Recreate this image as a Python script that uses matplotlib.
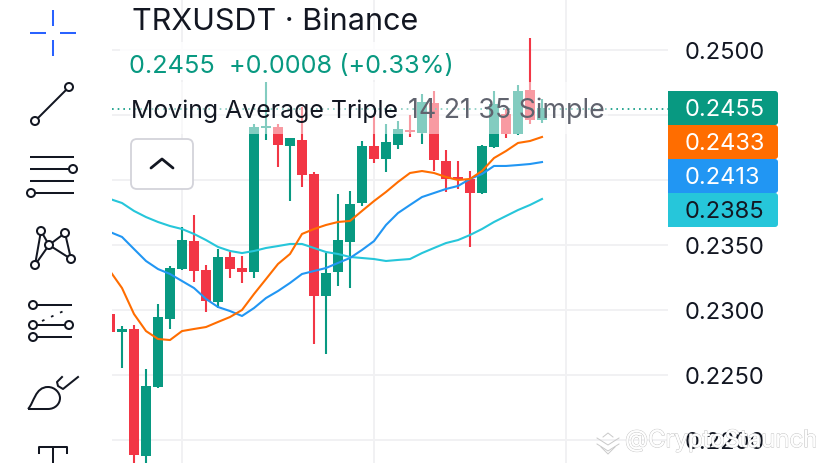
import numpy as np
import matplotlib
matplotlib.use("Agg")
import matplotlib.pyplot as plt
import matplotlib.patheffects as pe
from matplotlib.patches import Circle, FancyBboxPatch, PathPatch, Rectangle
from matplotlib.path import Path

plt.rcParams['font.family'] = ['Inter', 'DejaVu Sans']

# Candle values
opens = [0.22969, 0.22831, 0.22854, 0.21877, 0.22408, 0.22931, 0.23315, 0.23531, 0.23308, 0.23062,
         0.23408, 0.23323, 0.23292, 0.24400, 0.24408, 0.24262, 0.24308, 0.24046, 0.23108, 0.23292,
         0.23523, 0.23823, 0.24262, 0.24162, 0.24269, 0.24385, 0.24362, 0.24592, 0.24146, 0.24023,
         0.24008, 0.23900, 0.24254, 0.24508, 0.24354, 0.24692, 0.24462]
highs = [0.22969, 0.22877, 0.22885, 0.22546, 0.23046, 0.23338, 0.23638, 0.23731, 0.23346, 0.23469,
         0.23446, 0.23415, 0.24431, 0.24754, 0.24431, 0.24323, 0.24562, 0.24062, 0.23438, 0.23892,
         0.23915, 0.24300, 0.24492, 0.24431, 0.24454, 0.24500, 0.24662, 0.24685, 0.24231, 0.24146,
         0.24069, 0.24269, 0.24685, 0.24546, 0.24731, 0.25092, 0.24623]
lows = [0.22831, 0.22554, 0.21777, 0.21777, 0.22400, 0.22854, 0.23308, 0.23215, 0.22985, 0.23015,
        0.23246, 0.23208, 0.23246, 0.24308, 0.24100, 0.23838, 0.23946, 0.22738, 0.22662, 0.23185,
        0.23169, 0.23800, 0.24131, 0.24062, 0.24238, 0.24331, 0.24277, 0.24069, 0.23908, 0.23931,
        0.23485, 0.23892, 0.24246, 0.24323, 0.24346, 0.24431, 0.24438]
closes = [0.22831, 0.22854, 0.21885, 0.22415, 0.22946, 0.23323, 0.23538, 0.23300, 0.23069, 0.23408,
          0.23315, 0.23292, 0.24408, 0.24415, 0.24269, 0.24323, 0.24038, 0.23108, 0.23285, 0.23538,
          0.23815, 0.24262, 0.24162, 0.24292, 0.24392, 0.24369, 0.24600, 0.24154, 0.24008, 0.24008,
          0.23900, 0.24262, 0.24585, 0.24354, 0.24685, 0.24462, 0.24554]

# Moving averages
ma14 = [0.23300, 0.23169, 0.22969, 0.22838, 0.22777, 0.22769, 0.22838, 0.22854, 0.22869, 0.22908,
        0.22946, 0.23000, 0.23123, 0.23238, 0.23354, 0.23431, 0.23585, 0.23623, 0.23654, 0.23677,
        0.23685, 0.23762, 0.23838, 0.23908, 0.23985, 0.24054, 0.24069, 0.24054, 0.24023, 0.24000,
        0.24008, 0.24069, 0.24169, 0.24223, 0.24285, 0.24300, 0.24331]
ma21 = [0.23600, 0.23562, 0.23469, 0.23377, 0.23315, 0.23277, 0.23223, 0.23169, 0.23085, 0.23023,
        0.22992, 0.22954, 0.23015, 0.23092, 0.23146, 0.23208, 0.23277, 0.23300, 0.23323, 0.23362,
        0.23400, 0.23462, 0.23530, 0.23654, 0.23746, 0.23808, 0.23869, 0.23900, 0.23931, 0.23954,
        0.24008, 0.24046, 0.24108, 0.24108, 0.24115, 0.24123, 0.24138]
ma35 = [0.23854, 0.23823, 0.23762, 0.23715, 0.23677, 0.23646, 0.23623, 0.23585, 0.23538, 0.23485,
        0.23454, 0.23438, 0.23454, 0.23477, 0.23492, 0.23508, 0.23508, 0.23477, 0.23446, 0.23431,
        0.23408, 0.23400, 0.23392, 0.23377, 0.23385, 0.23392, 0.23438, 0.23477, 0.23515, 0.23538,
        0.23577, 0.23623, 0.23677, 0.23723, 0.23769, 0.23808, 0.23854]

price_ticks = [0.2500, 0.2450, 0.2400, 0.2350, 0.2300, 0.2250, 0.2200]
price_labels = ["0.2500", "", "", "0.2350", "0.2300", "0.2250", "0.2200"]
time_grid = [6, 22, 38]
last_price = 0.2455
tags = ["0.2455", "0.2433", "0.2413", "0.2385"]

GREEN = "#089981"
RED = "#F23645"
ORANGE = "#FF6D00"
BLUE = "#2196F3"
CYAN = "#26C6DA"
INK = "#131722"
GRID = "#F1F1F3"

W, H = 828, 464
fig = plt.figure(figsize=(W / 100, H / 100), dpi=100)

# main chart: x is candle number, 12 px per candle, first candle centred at x=110
ax = fig.add_axes([112 / W, 0, 556 / W, 1])
ax.set_xlim((112 - 110) / 12, (668 - 110) / 12)
ax.set_ylim(0.25 - (464 - 51) / 13000, 0.25 + 51 / 13000)
for s in ax.spines.values():
    s.set_visible(False)
ax.set_xticks([])
ax.yaxis.tick_right()
ax.set_yticks(price_ticks)
ax.set_yticklabels(price_labels, fontsize=17, color=INK)
ax.tick_params(axis='y', length=0, pad=12)

for p in price_ticks:
    ax.axhline(p, color=GRID, lw=1.4, zorder=1)
for t in time_grid:
    ax.axvline(t, color=GRID, lw=1.4, zorder=1)

idx = np.arange(len(opens))
o = np.array(opens)
c = np.array(closes)
colors = [GREEN if b > a else RED for a, b in zip(o, c)]
ax.vlines(idx, lows, highs, colors=colors, lw=1.5, zorder=2)
ax.bar(idx, np.abs(c - o), bottom=np.minimum(o, c), width=10 / 12, color=colors, zorder=3)

ax.plot(idx, ma35, color=CYAN, lw=1.5, zorder=4)
ax.plot(idx, ma21, color=BLUE, lw=1.5, zorder=4)
ax.plot(idx, ma14, color=ORANGE, lw=1.5, zorder=4)
ax.axhline(last_price, color=GREEN, lw=1.2, ls=(0, (1, 2.4)), zorder=4)

# overlay in pixel coordinates for the legend, price tags and toolbar
ov = fig.add_axes([0, 0, 1, 1], facecolor="none")
ov.set_xlim(0, W)
ov.set_ylim(H, 0)
ov.axis("off")

# legend backdrops
ov.add_patch(Rectangle((120, 43), 350, 38, fc="white", alpha=0.85, lw=0))
ov.add_patch(Rectangle((130, 83), 478, 52, fc="white", alpha=0.5, lw=0))

ov.text(132, 22, "TRXUSDT · Binance", fontsize=22, color=INK, va="center")
ov.text(129, 66, "0.2455  +0.0008 (+0.33%)", fontsize=18.2, color=GREEN, va="center")
ov.text(131, 111, "Moving Average Triple", fontsize=17.9, color=INK, va="center")
ov.text(408, 111, "14 21 35 Simple", fontsize=19.3, color="#60636E", va="center")

# collapse button
ov.add_patch(FancyBboxPatch((134, 143), 56, 44, boxstyle="round,pad=3,rounding_size=6",
                            fc="white", ec="#D3D3DA", lw=1.3))
ov.plot([151, 162, 173], [169, 160, 169], color=INK, lw=2, solid_capstyle="round", solid_joinstyle="round")

# price tags
tag_tops = [92, 126, 160, 194]
tag_fill = [GREEN, ORANGE, BLUE, CYAN]
tag_text = ["white", "white", "white", INK]
for top, fill, txt, label in zip(tag_tops, tag_fill, tag_text, tags):
    ov.add_patch(FancyBboxPatch((670, top + 2), 106, 30, boxstyle="round,pad=2,rounding_size=3",
                                fc=fill, ec="none"))
    ov.add_patch(Rectangle((668, top), 20, 34, fc=fill, lw=0))
    ov.text(685, top + 18, label, fontsize=17, color=txt, va="center")


# toolbar icons
def seg(xs, ys, color=INK, lw=1.45):
    ov.plot(xs, ys, color=color, lw=lw, solid_capstyle="butt")


def knob(x, y, r=4):
    ov.add_patch(Circle((x, y), r, fc="white", ec=INK, lw=1.45, zorder=5))


seg([30, 46], [34, 34], "#2962FF")
seg([60, 76], [34, 34], "#2962FF")
seg([53, 53], [11, 27], "#2962FF")
seg([53, 53], [41, 57], "#2962FF")

seg([35, 69], [122, 88])
knob(35, 122)
knob(69, 88)

seg([30, 74], [158, 158])
seg([30, 70], [170, 170])
seg([30, 74], [182, 182])
seg([33, 74], [194, 194])
knob(73, 170)
knob(31, 194)

pts = {"bl": (35, 266), "tl": (41, 232), "c": (49, 246), "tr": (65, 234), "br": (71, 260)}
for a, b in [("bl", "tl"), ("bl", "c"), ("tl", "c"), ("c", "tr"), ("c", "br"), ("tr", "br")]:
    seg([pts[a][0], pts[b][0]], [pts[a][1], pts[b][1]])
for x, y in pts.values():
    knob(x, y)

seg([33, 72], [306, 306])
seg([33, 69], [326, 326])
seg([33, 72], [338, 338])
ov.plot([42, 68], [322, 310], color=INK, lw=1.3, ls=(0, (1.5, 4)))
knob(33, 306)
knob(33, 326)
knob(69, 326)
knob(33, 338)

brush = Path([(28, 410), (34, 404), (35, 388), (48, 388), (55, 388), (60, 394), (60, 399),
              (60, 405), (55, 410), (48, 410), (28, 410)],
             [Path.MOVETO, Path.CURVE4, Path.CURVE4, Path.CURVE4, Path.CURVE4, Path.CURVE4,
              Path.CURVE4, Path.CURVE4, Path.CURVE4, Path.CURVE4, Path.LINETO])
ov.add_patch(PathPatch(brush, fc="none", ec=INK, lw=1.45))
ov.plot([62, 57, 58, 63, 78], [378, 383, 387, 390, 378], color=INK, lw=1.45)

ov.plot([39, 39, 67, 67], [454, 448, 448, 454], color=INK, lw=1.45)
seg([53, 53], [448, 464])

# watermark
ov.plot([597, 608, 619], [439, 446, 439], color="#C9C9C9", lw=0.7)
ov.plot([597, 608, 619], [445, 452, 445], color="#C9C9C9", lw=0.7)
ov.plot([603, 608, 613], [438, 434, 438], color="#C9C9C9", lw=0.7)
ov.plot([601, 608, 615], [448, 455, 448], color="#C9C9C9", lw=0.7)
ov.text(625, 442, "@CryptoStaunch", fontsize=17.2, color="white", va="center", alpha=0.9,
        path_effects=[pe.withStroke(linewidth=0.8, foreground="#BDBDBD"), pe.Normal()])

fig.savefig("out.png", dpi=100)
